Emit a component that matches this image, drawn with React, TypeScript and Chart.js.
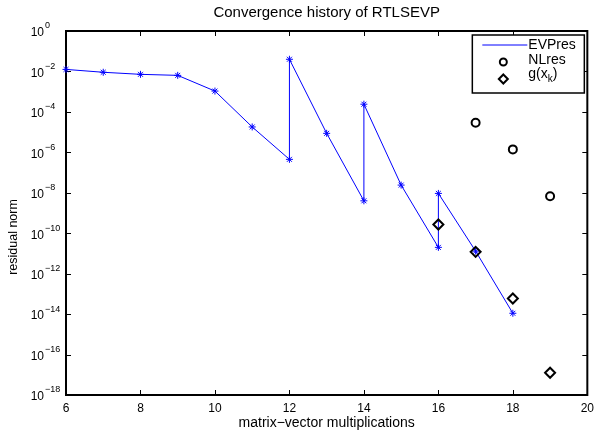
import React, { useEffect, useRef } from "react";
import { Chart, registerables } from "chart.js";

Chart.register(...registerables);

const titleText = "Convergence history of RTLSEVP";
const xLabel = "matrix\u2212vector multiplications";
const yLabel = "residual norm";
const xTicks = [6, 8, 10, 12, 14, 16, 18, 20];
const yTickExponents = [0, -2, -4, -6, -8, -10, -12, -14, -16, -18];

const seriesNames = ["EVPres", "NLres", "g(x_k)"];

const evX = [6, 7, 8, 9, 10, 11, 12, 12, 13, 14, 14, 15, 16, 16, 17, 18];
const evY = [
  1.26e-2, 9.1e-3, 7.2e-3, 6.4e-3, 1.07e-3, 1.8e-5, 4.5e-7, 4e-2, 8.7e-6,
  4e-9, 2.4e-4, 2.4e-8, 2e-11, 9.3e-9, 1.3e-11, 1.1e-14,
];
const nlX = [17, 18, 19];
const nlY = [2.9e-5, 1.4e-6, 6.8e-9];
const gX = [16, 17, 18, 19];
const gY = [2.7e-10, 1.2e-11, 5.9e-14, 1.26e-17];

const FONT = "'Liberation Sans', Arial, Helvetica, sans-serif";

const frameTicksPlugin = {
  id: "frameTicks",
  beforeDatasetsDraw(chart: any) {
    const { ctx, chartArea, scales } = chart;
    const { left, right, top, bottom } = chartArea;
    ctx.save();
    ctx.strokeStyle = "#000";
    ctx.lineWidth = 1;
    const tl = 5;
    ctx.beginPath();
    for (const v of xTicks) {
      const x = Math.round(scales.x.getPixelForValue(v)) + 0.5;
      ctx.moveTo(x, bottom);
      ctx.lineTo(x, bottom - tl);
      ctx.moveTo(x, top);
      ctx.lineTo(x, top + tl);
    }
    for (const e of yTickExponents) {
      const y = Math.round(scales.y.getPixelForValue(Math.pow(10, e))) + 0.5;
      ctx.moveTo(left, y);
      ctx.lineTo(left + tl, y);
      ctx.moveTo(right, y);
      ctx.lineTo(right - tl, y);
    }
    ctx.stroke();
    ctx.lineWidth = 2;
    ctx.strokeRect(left, top, right - left, bottom - top);

    ctx.fillStyle = "#000";
    ctx.textBaseline = "middle";
    // title, centred on the axes
    ctx.font = `15px ${FONT}`;
    ctx.textAlign = "center";
    ctx.fillText(titleText, (left + right) / 2, top - 18);

    // y axis label
    ctx.save();
    ctx.translate(14, (top + bottom) / 2 + 24);
    ctx.rotate(-Math.PI / 2);
    ctx.font = `12.5px ${FONT}`;
    ctx.textAlign = "center";
    ctx.fillText(yLabel, 0, 0);
    ctx.restore();

    // y tick labels: 10 with superscript exponent
    for (const e of yTickExponents) {
      const y = scales.y.getPixelForValue(Math.pow(10, e));
      const baseRight = left - 22;
      ctx.font = `12px ${FONT}`;
      ctx.textAlign = "right";
      ctx.fillText("10", baseRight, y + 2);
      ctx.font = `9px ${FONT}`;
      ctx.textAlign = "left";
      const exp = e === 0 ? "0" : "\u2212" + String(-e);
      ctx.fillText(exp, baseRight + 1, y - 5);
    }
    ctx.restore();
  },
  afterDatasetsDraw(chart: any) {
    const { ctx, chartArea } = chart;
    const ds = chart.data.datasets;
    const boxR = chartArea.right - 3;
    const boxL = boxR - 112;
    const boxT = chartArea.top + 4;
    const boxB = boxT + 58;
    ctx.save();
    ctx.fillStyle = "#fff";
    ctx.fillRect(boxL, boxT, boxR - boxL, boxB - boxT);
    ctx.strokeStyle = "#000";
    ctx.lineWidth = 1.5;
    ctx.strokeRect(boxL, boxT, boxR - boxL, boxB - boxT);
    const mx = boxL + 31;
    const tx = boxL + 56;
    const rows = [boxT + 10, boxT + 27, boxT + 44];
    ctx.strokeStyle = ds[0].borderColor;
    ctx.lineWidth = 1;
    ctx.beginPath();
    ctx.moveTo(boxL + 10, rows[0]);
    ctx.lineTo(boxL + 55, rows[0]);
    ctx.stroke();
    ctx.strokeStyle = "#000";
    ctx.lineWidth = 2;
    ctx.beginPath();
    ctx.arc(mx, rows[1], 3.5, 0, Math.PI * 2);
    ctx.stroke();
    ctx.beginPath();
    ctx.moveTo(mx, rows[2] - 4.5);
    ctx.lineTo(mx + 4.5, rows[2]);
    ctx.lineTo(mx, rows[2] + 4.5);
    ctx.lineTo(mx - 4.5, rows[2]);
    ctx.closePath();
    ctx.stroke();
    ctx.fillStyle = "#000";
    ctx.font = `14px ${FONT}`;
    ctx.textBaseline = "middle";
    ctx.textAlign = "left";
    ctx.fillText(seriesNames[0], tx, rows[0]);
    ctx.fillText(seriesNames[1], tx, rows[1] - 2);
    const parts = seriesNames[2].match(/^(.*)_(.)(.*)$/);
    if (parts) {
      let x = tx;
      const yb = rows[2] - 5;
      ctx.fillText(parts[1], x, yb);
      x += ctx.measureText(parts[1]).width;
      ctx.font = `10px ${FONT}`;
      ctx.fillText(parts[2], x, yb + 5);
      x += ctx.measureText(parts[2]).width;
      ctx.font = `14px ${FONT}`;
      ctx.fillText(parts[3], x, yb);
    }
    ctx.restore();
  },
};

export default function App() {
  const ref = useRef<HTMLCanvasElement>(null);
  useEffect(() => {
    document.body.style.margin = "0";
    if (!ref.current) return;
    const chart = new Chart(ref.current, {
      type: "scatter",
      data: {
        datasets: [
          {
            label: seriesNames[0],
            data: evX.map((x, i) => ({ x, y: evY[i] })),
            showLine: true,
            borderColor: "#0000ff",
            backgroundColor: "#0000ff",
            borderWidth: 1,
            pointStyle: "star",
            pointRadius: 3.5,
            pointBorderWidth: 1,
            clip: false as any,
            order: 3,
          },
          {
            label: seriesNames[1],
            data: nlX.map((x, i) => ({ x, y: nlY[i] })),
            showLine: false,
            borderColor: "#000",
            backgroundColor: "transparent",
            pointStyle: "circle",
            pointRadius: 4,
            pointBorderWidth: 2,
            clip: false as any,
            order: 2,
          },
          {
            label: seriesNames[2],
            data: gX.map((x, i) => ({ x, y: gY[i] })),
            showLine: false,
            borderColor: "#000",
            backgroundColor: "transparent",
            pointStyle: "rectRot",
            pointRadius: 5,
            pointBorderWidth: 2,
            clip: false as any,
            order: 1,
          },
        ],
      },
      options: {
        animation: false,
        responsive: false,
        maintainAspectRatio: false,
        layout: { autoPadding: false, padding: { top: 31, right: 8, left: 0, bottom: 0 } } as any,
        plugins: {
          legend: { display: false },
          tooltip: { enabled: false },
          title: { display: false },
        },
        scales: {
          x: {
            type: "linear",
            min: 6,
            max: 20,
            afterBuildTicks: (s: any) => {
              s.ticks = xTicks.map((v) => ({ value: v }));
            },
            afterFit: (s: any) => {
              s.height = 37;
            },
            grid: { display: false, drawTicks: false },
            border: { display: false },
            ticks: {
              color: "#000",
              font: { family: FONT, size: 12 },
              padding: 6,
              maxRotation: 0,
              autoSkip: false,
            },
            title: {
              display: true,
              text: xLabel,
              color: "#000",
              font: { family: FONT, size: 14 },
              padding: { top: 0, bottom: 0 },
            },
          },
          y: {
            type: "logarithmic",
            min: 1e-18,
            max: 1,
            afterBuildTicks: (s: any) => {
              s.ticks = yTickExponents.map((e) => ({ value: Math.pow(10, e) }));
            },
            afterFit: (s: any) => {
              s.width = 66;
            },
            grid: { display: false, drawTicks: false },
            border: { display: false },
            ticks: { display: false },
            title: { display: false },
          },
        },
      },
      plugins: [frameTicksPlugin],
    });
    return () => chart.destroy();
  }, []);
  return (
    <div style={{ width: 600, height: 432, background: "#fff" }}>
      <canvas ref={ref} width={600} height={432} style={{ width: 600, height: 432 }} />
    </div>
  );
}
